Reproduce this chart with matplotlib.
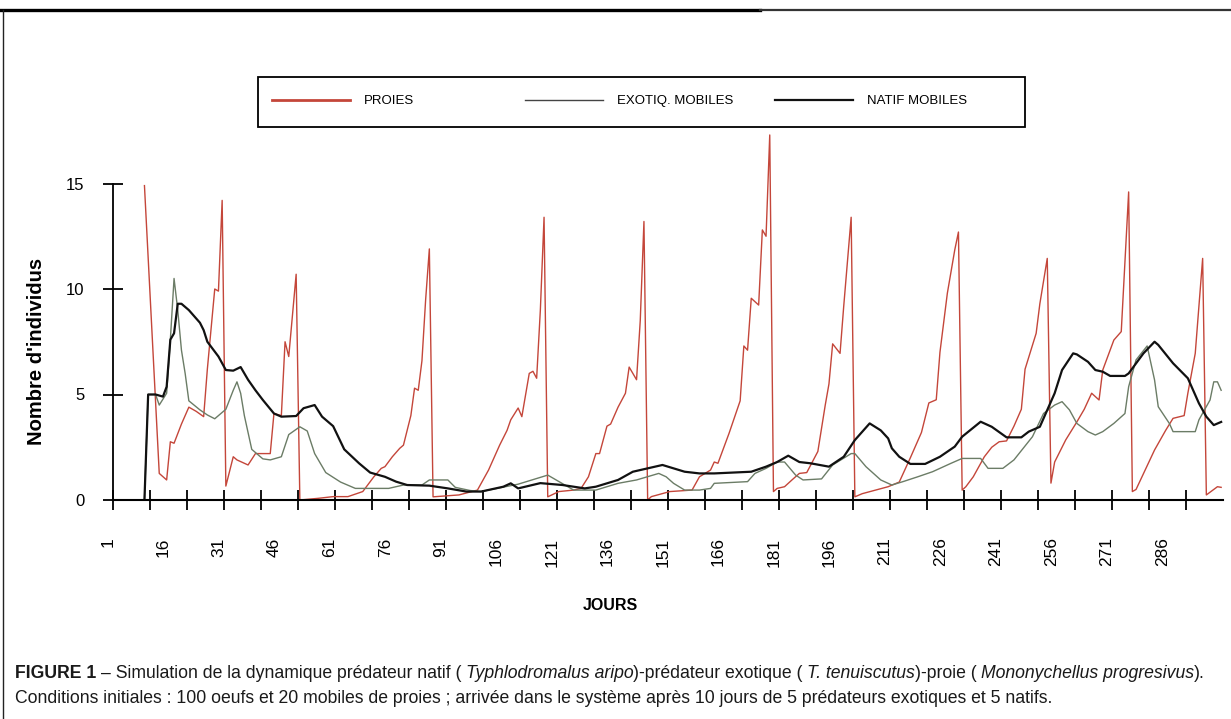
import numpy as np
import matplotlib
matplotlib.use('Agg')
import matplotlib.pyplot as plt
import matplotlib.transforms as mtransforms
from matplotlib.lines import Line2D
from matplotlib.patches import Rectangle
from matplotlib.ticker import FixedLocator

plt.rcParams['font.family'] = ['Liberation Sans', 'DejaVu Sans']

# Données (jour, nombre d'individus)
jours_proies = [9, 13, 15, 16, 17, 19, 21, 23, 25, 26, 28, 29, 30, 31, 33, 34, 37, 39, 43, 44,
                46, 47, 48, 50, 51, 56, 60, 64, 68, 71, 73, 74, 76, 78, 79, 81, 82, 83, 84, 85,
                86, 87, 94, 99, 102, 105, 107, 108, 110, 111, 113, 114, 115, 116, 117, 118, 121,
                125, 127, 129, 131, 132, 134, 135, 137, 139, 140, 142, 143, 144, 145, 146, 151,
                157, 159, 162, 163, 164, 167, 170, 171, 172, 173, 175, 176, 177, 178, 179, 180,
                182, 184, 186, 188, 191, 193, 194, 195, 197, 198, 200, 201, 203, 210, 213, 216,
                219, 221, 223, 224, 226, 228, 229, 230, 231, 233, 236, 238, 240, 242, 244, 246,
                247, 250, 251, 253, 254, 255, 258, 261, 263, 265, 267, 268, 271, 273, 275, 276,
                277, 282, 285, 287, 290, 291, 293, 295, 296, 299, 300]
proies = [14.9, 1.26, 0.95, 2.76, 2.69, 3.6, 4.4, 4.2, 3.95, 6.2, 10.0, 9.9, 14.2, 0.66, 2.05, 1.9, 1.66, 2.2, 2.2, 4.1,
          4.0, 7.5, 6.8, 10.7, 0.0, 0.08, 0.16, 0.16, 0.4, 1.1, 1.5, 1.58, 2.05, 2.45, 2.6, 4.0, 5.3, 5.2, 6.6, 9.5,
          11.9, 0.15, 0.24, 0.47, 1.42, 2.6, 3.3, 3.8, 4.36, 3.95, 6.0, 6.1, 5.77, 9.0, 13.4, 0.15, 0.4,
          0.47, 0.55, 1.1, 2.2, 2.2, 3.5, 3.6, 4.4, 5.06, 6.3, 5.7, 8.5, 13.2, 0.0, 0.16, 0.4,
          0.47, 1.1, 1.42, 1.8, 1.74, 3.16, 4.7, 7.3, 7.1, 9.56, 9.24, 12.8, 12.5, 17.3, 0.4, 0.55,
          0.63, 0.95, 1.26, 1.3, 2.3, 4.5, 5.5, 7.4, 6.95, 9.2, 13.4, 0.15, 0.3, 0.63, 0.85, 2.0,
          3.2, 4.6, 4.75, 7.0, 9.8, 11.85, 12.7, 0.47, 0.63, 1.1, 2.05, 2.5, 2.76, 2.8, 3.5, 4.3,
          6.2, 7.9, 9.3, 11.45, 0.8, 1.8, 2.85, 3.7, 4.3, 5.06, 4.74, 6.16, 7.58, 7.98, 14.6, 0.4,
          0.5, 2.37, 3.3, 3.87, 4.0, 5.06, 6.95, 11.45, 0.24, 0.63, 0.6]

jours_exotiq = [9, 10, 12, 13, 15, 16, 17, 18, 19, 20, 21, 24, 26, 28, 31, 33, 34, 35, 36, 38,
                41, 43, 46, 48, 51, 53, 55, 58, 62, 66, 75, 79, 84, 86, 91, 93, 97, 100, 110, 118,
                125, 131, 137, 142, 148, 150, 152, 155, 159, 162, 163, 172, 174, 177, 180, 182, 185,
                187, 192, 195, 200, 201, 204, 208, 211, 214, 218, 222, 227, 230, 235, 237, 241, 244,
                249, 252, 255, 257, 259, 261, 264, 266, 268, 271, 274, 275, 277, 280, 282, 283, 286,
                287, 293, 294, 297, 298, 299, 300]
exotiq = [0, 5.0, 5.0, 4.5, 5.06, 7.6, 10.5, 9.0, 7.1, 6.0, 4.7, 4.27, 4.03, 3.85, 4.3, 5.2, 5.6, 5.06, 4.0, 2.4,
          1.95, 1.9, 2.05, 3.1, 3.47, 3.27, 2.2, 1.3, 0.85, 0.55, 0.55, 0.71, 0.71, 0.95, 0.95, 0.6, 0.45, 0.4, 0.75, 1.18,
          0.47, 0.47, 0.79, 0.95, 1.26, 1.1, 0.79, 0.47, 0.47, 0.55, 0.79, 0.87, 1.26, 1.5, 1.8, 1.8, 1.18,
          0.95, 1.0, 1.66, 2.2, 2.2, 1.58, 0.95, 0.71, 0.87, 1.1, 1.34, 1.74, 1.97, 1.97, 1.5, 1.5, 1.9,
          3.0, 4.1, 4.5, 4.66, 4.27, 3.63, 3.24, 3.08, 3.24, 3.63, 4.1, 5.37, 6.64, 7.3, 5.69, 4.42, 3.63,
          3.24, 3.24, 3.8, 4.74, 5.6, 5.6, 5.2]

jours_natif = [9, 10, 12, 14, 15, 16, 17, 18, 19, 21, 24, 25, 26, 29, 31, 33, 35, 37, 39, 41,
               44, 46, 50, 52, 55, 57, 60, 63, 67, 70, 74, 77, 80, 86, 91, 96, 100, 106, 108, 110,
               116, 122, 128, 131, 137, 141, 145, 149, 155, 159, 163, 173, 177, 180, 183, 186, 189,
               194, 198, 201, 205, 208, 210, 211, 213, 216, 220, 224, 228, 230, 235, 238, 242, 246,
               248, 251, 255, 257, 260, 261, 264, 266, 268, 270, 274, 275, 279, 282, 283, 287, 291,
               294, 296, 298, 300]
natif = [0, 5.0, 5.0, 4.9, 5.37, 7.6, 7.9, 9.3, 9.3, 9.0, 8.4, 8.05, 7.5, 6.8, 6.16, 6.13, 6.3, 5.7, 5.2, 4.74,
         4.1, 3.95, 3.98, 4.35, 4.5, 3.95, 3.5, 2.4, 1.74, 1.3, 1.1, 0.87, 0.71, 0.68, 0.55, 0.4, 0.4, 0.63, 0.79, 0.55,
         0.8, 0.71, 0.55, 0.63, 0.95, 1.34, 1.5, 1.66, 1.34, 1.26, 1.26, 1.34, 1.58, 1.8, 2.1, 1.8, 1.74,
         1.58, 2.05, 2.84, 3.63, 3.3, 2.92, 2.45, 2.05, 1.71, 1.71, 2.05, 2.53, 3.0, 3.71, 3.47, 2.97, 2.97,
         3.24, 3.47, 5.06, 6.16, 6.95, 6.9, 6.55, 6.16, 6.08, 5.88, 5.88, 6.0, 6.95, 7.5, 7.35, 6.48, 5.77,
         4.58, 3.95, 3.55, 3.7]

x_etiquettes = list(range(1, 287, 15))
y_graduations = [0, 5, 10, 15]

ROUGE = '#c4463a'
GRIS = '#6b7c66'
NOIR = '#111111'

W, H = 1231, 719
fig = plt.figure(figsize=(W / 100, H / 100), dpi=100)
ax = fig.add_axes([113 / W, 1 - 500 / H, 1110 / W, 369.25 / H])

ax.plot(jours_proies, proies, color=ROUGE, lw=1.0)
ax.plot(jours_exotiq, exotiq, color=GRIS, lw=1.0)
ax.plot(jours_natif, natif, color=NOIR, lw=1.6)

ax.set_xlim(0.5, 300.5)
ax.set_ylim(0, 17.5)
for s in ['top', 'right']:
    ax.spines[s].set_visible(False)
ax.spines['left'].set_bounds(0, 15)
ax.spines['left'].set_linewidth(1.3)
ax.spines['bottom'].set_linewidth(1.5)

ax.set_yticks(y_graduations)
ax.tick_params(axis='y', direction='inout', length=15, width=1.3, pad=13, labelsize=12)

ax.set_xticks(x_etiquettes)
ax.set_xticklabels([str(j) for j in x_etiquettes], rotation=90)
ax.tick_params(axis='x', which='major', length=0, pad=27, labelsize=12.5)
ax.xaxis.set_minor_locator(FixedLocator(np.arange(0.5, 291, 10)))
ax.tick_params(axis='x', which='minor', direction='inout', length=14, width=1.3)
decalage = mtransforms.ScaledTranslation(-7 / 100, 0, fig.dpi_scale_trans)
for lbl in ax.get_xticklabels():
    lbl.set_transform(lbl.get_transform() + decalage)

fig.text(37 / W, 1 - 351 / H, "Nombre d'individus", rotation=90, fontsize=14.5,
         fontweight='bold', ha='center', va='center')
fig.text(610 / W, 1 - 605 / H, 'JOURS', fontsize=11.5, fontweight='bold',
         ha='center', va='center')

# légende
fig.add_artist(Rectangle((258 / W, 1 - 127 / H), 767 / W, 50 / H, transform=fig.transFigure,
                         fill=False, lw=1.3, ec='black'))
for x0, nom, coul, lw in [(272, 'PROIES', ROUGE, 2.0), (525, 'EXOTIQ. MOBILES', '#444444', 1.0),
                          (775, 'NATIF MOBILES', NOIR, 1.6)]:
    fig.add_artist(Line2D([x0 / W, (x0 + 78) / W], [1 - 100 / H, 1 - 100 / H], color=coul, lw=lw,
                          transform=fig.transFigure))
    fig.text((x0 + 92) / W, 1 - 101 / H, nom, fontsize=9.5, va='center', ha='left')

# cadre
fig.add_artist(Line2D([0, 760 / W], [1 - 10 / H, 1 - 10 / H], color='black', lw=2.4, transform=fig.transFigure))
fig.add_artist(Line2D([760 / W, 1], [1 - 10 / H, 1 - 10 / H], color='#333333', lw=1.6, transform=fig.transFigure))
fig.add_artist(Line2D([3 / W, 3 / W], [0, 1 - 10 / H], color='#222222', lw=1.0, transform=fig.transFigure))

# légende de la figure
famille = ['Liberation Sans', 'DejaVu Sans']
ligne1 = [('FIGURE 1', 'bold', 0), ('– Simulation de la dynamique prédateur natif (', 'normal', 1),
          ('Typhlodromalus aripo', 'italic', 1), (')-prédateur exotique (', 'normal', 0),
          ('T. tenuiscutus', 'italic', 1), (')-proie (', 'normal', 0),
          ('Mononychellus progresivus', 'italic', 1), (').', 'normal', 0)]
ligne2 = [('Conditions initiales : 100 oeufs et 20 mobiles de proies ; arrivée dans le système '
           'après 10 jours de 5 prédateurs exotiques et 5 natifs.', 'normal', 0)]

renderer = fig.canvas.get_renderer()


def ecrire(runs, x_px, y_px, taille):
    x = x_px
    objets = []
    for texte, style, espaces in runs:
        x += espaces * taille * 100 / 72 * 0.25
        kw = dict(fontsize=taille, family=famille, color='#1a1a1a', ha='left', va='baseline')
        if style == 'bold':
            kw['fontweight'] = 'bold'
        elif style == 'italic':
            kw['fontstyle'] = 'italic'
        t = fig.text(x / W, 1 - y_px / H, texte, **kw)
        x += t.get_window_extent(renderer).width
        objets.append(t)
    return objets, x - x_px


objets, largeur = ecrire(ligne1, 15, 678, 12)
taille = 12 * 1198 / largeur
for o in objets:
    o.remove()
ecrire(ligne1, 15, 678, taille)
ecrire(ligne2, 15, 703, taille)

fig.savefig('out.png', dpi=100)
